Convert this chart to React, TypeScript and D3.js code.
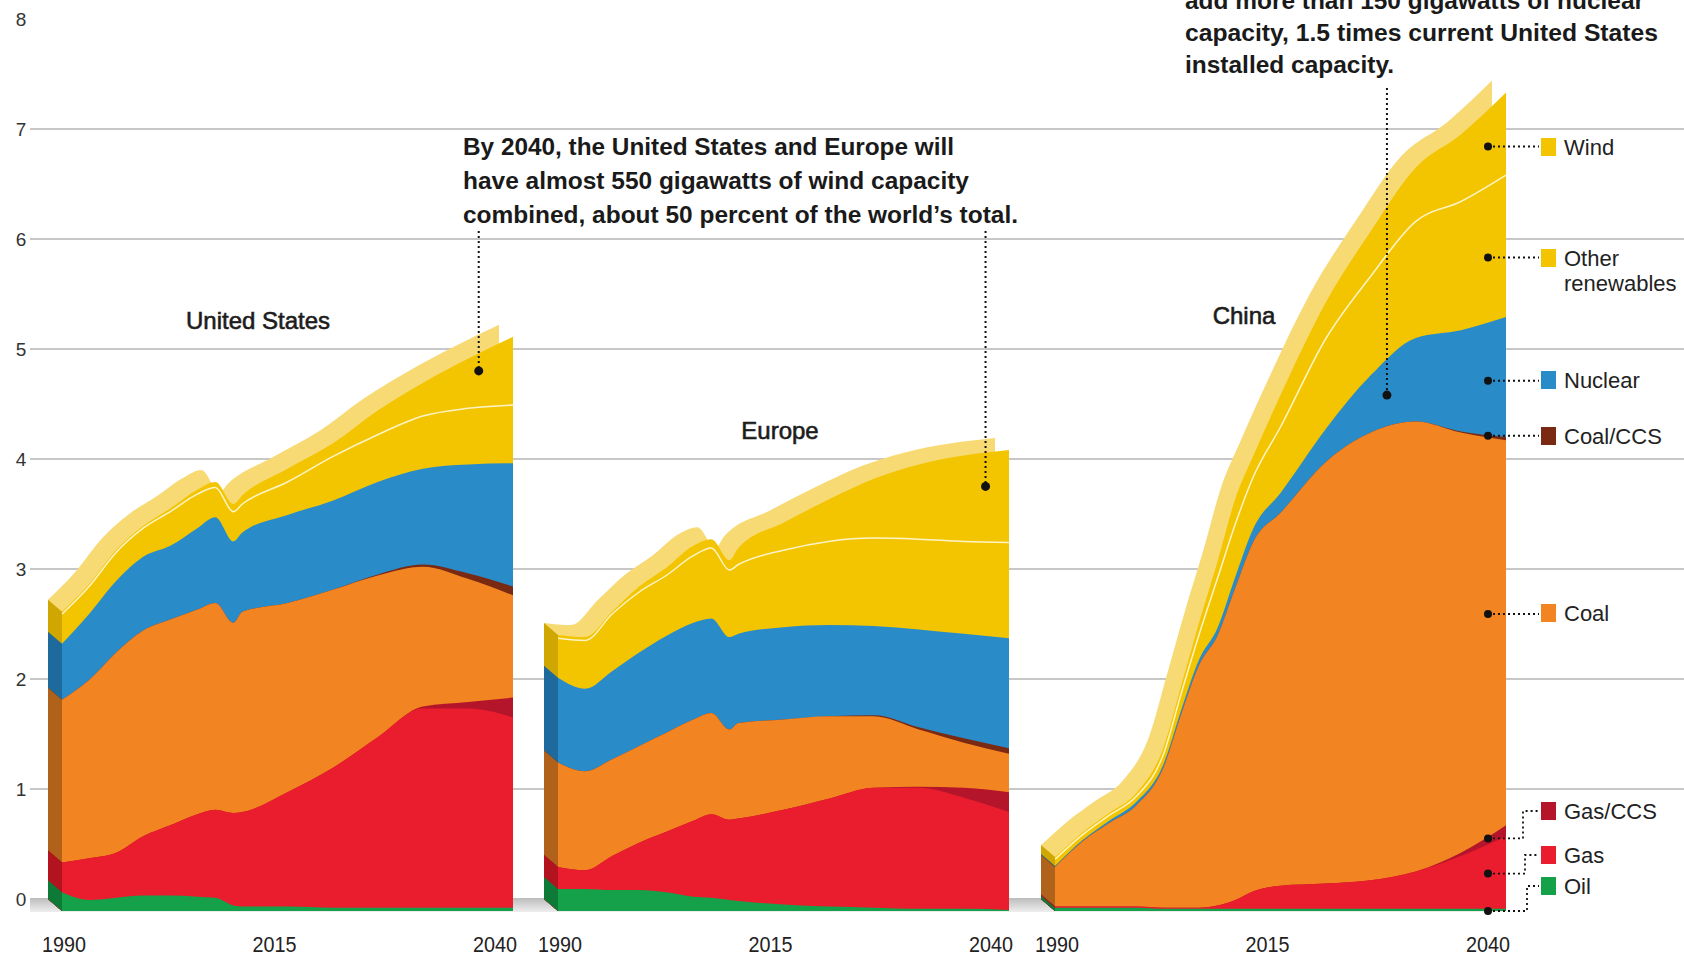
import React from 'react';
import * as d3 from 'd3';

// ---------- DATA (trillion kWh) ----------
const SERIES = ['oil', 'gas', 'gasCCS', 'coal', 'coalCCS', 'nuclear', 'otherRen', 'wind'];

const usYears = [1990, 1993, 1996, 1999, 2002, 2005, 2007, 2009, 2010, 2015, 2020, 2025, 2030, 2035, 2040];
const usOil = [0.17, 0.10, 0.12, 0.14, 0.14, 0.13, 0.12, 0.05, 0.04, 0.04, 0.03, 0.03, 0.03, 0.03, 0.03];
const usGas = [0.27, 0.38, 0.41, 0.54, 0.64, 0.75, 0.80, 0.84, 0.86, 1.04, 1.27, 1.55, 1.81, 1.81, 1.73];
const usGasCCS = [0, 0, 0, 0, 0, 0, 0, 0, 0, 0, 0, 0, 0.02, 0.06, 0.18];
const usCoal = [1.48, 1.62, 1.82, 1.87, 1.87, 1.86, 1.88, 1.73, 1.82, 1.72, 1.62, 1.47, 1.27, 1.12, 0.93];
const usCoalCCS = [0, 0, 0, 0, 0, 0, 0, 0, 0, 0, 0, 0.01, 0.02, 0.05, 0.08];
const usNuclear = [0.51, 0.60, 0.65, 0.67, 0.67, 0.74, 0.78, 0.74, 0.72, 0.80, 0.81, 0.84, 0.87, 0.99, 1.12];
const usOther = [0.27, 0.25, 0.26, 0.26, 0.31, 0.31, 0.27, 0.27, 0.26, 0.30, 0.40, 0.43, 0.48, 0.51, 0.53];
const usWind = [0.02, 0.02, 0.02, 0.02, 0.03, 0.04, 0.05, 0.07, 0.08, 0.12, 0.12, 0.22, 0.30, 0.45, 0.62];

const euYears = [1990, 1993, 1996, 1999, 2002, 2005, 2007, 2009, 2010, 2015, 2020, 2025, 2030, 2035, 2040];
const euOil = [0.20, 0.20, 0.19, 0.19, 0.17, 0.13, 0.12, 0.10, 0.09, 0.06, 0.04, 0.03, 0.02, 0.02, 0.01];
const euGas = [0.20, 0.17, 0.31, 0.43, 0.55, 0.69, 0.76, 0.73, 0.75, 0.86, 0.98, 1.09, 1.10, 1.01, 0.89];
const euGasCCS = [0, 0, 0, 0, 0, 0, 0, 0, 0, 0, 0, 0, 0.01, 0.09, 0.18];
const euCoal = [0.95, 0.90, 0.88, 0.88, 0.90, 0.92, 0.92, 0.82, 0.87, 0.82, 0.75, 0.65, 0.52, 0.41, 0.35];
const euCoalCCS = [0, 0, 0, 0, 0, 0, 0, 0, 0, 0, 0, 0.01, 0.02, 0.04, 0.05];
const euNuclear = [0.77, 0.75, 0.80, 0.85, 0.88, 0.88, 0.86, 0.84, 0.81, 0.84, 0.83, 0.81, 0.89, 0.95, 1.00];
const euOther = [0.36, 0.44, 0.52, 0.55, 0.55, 0.61, 0.64, 0.61, 0.63, 0.70, 0.76, 0.80, 0.82, 0.84, 0.87];
const euWind = [0.03, 0.03, 0.02, 0.05, 0.07, 0.09, 0.08, 0.09, 0.15, 0.25, 0.38, 0.54, 0.68, 0.78, 0.84];

const cnYears = [1990, 1993, 1996, 1999, 2002, 2004, 2006, 2008, 2010, 2012, 2015, 2020, 2025, 2030, 2035, 2040];
const cnOil = [0.03, 0.03, 0.03, 0.03, 0.02, 0.02, 0.02, 0.02, 0.02, 0.02, 0.02, 0.02, 0.02, 0.02, 0.02, 0.02];
const cnGas = [0.01, 0.01, 0.01, 0.01, 0.01, 0.01, 0.01, 0.03, 0.08, 0.16, 0.21, 0.23, 0.26, 0.34, 0.48, 0.66];
const cnGasCCS = [0, 0, 0, 0, 0, 0, 0, 0, 0, 0, 0, 0, 0, 0, 0.03, 0.10];
const cnCoal = [0.36, 0.59, 0.76, 0.92, 1.27, 1.76, 2.21, 2.45, 2.84, 3.18, 3.39, 3.83, 4.07, 4.09, 3.82, 3.50];
const cnCoalCCS = [0, 0, 0, 0, 0, 0, 0, 0, 0, 0, 0, 0, 0, 0, 0.01, 0.03];
const cnNuclear = [0.01, 0.01, 0.02, 0.03, 0.03, 0.04, 0.05, 0.07, 0.10, 0.12, 0.18, 0.30, 0.52, 0.76, 0.92, 1.09];
const cnOther = [0.06, 0.05, 0.05, 0.05, 0.09, 0.15, 0.23, 0.45, 0.48, 0.47, 0.60, 0.82, 0.90, 1.06, 1.17, 1.29];
const cnWind = [0.02, 0.02, 0.02, 0.03, 0.06, 0.07, 0.11, 0.15, 0.23, 0.19, 0.29, 0.33, 0.41, 0.49, 0.61, 0.75];

const regionNames = ['United States', 'Europe', 'China'];
const yTicks = [0, 1, 2, 3, 4, 5, 6, 7, 8];
const xTickYears = [1990, 2015, 2040];

const legendLabels = [['Wind'], ['Other', 'renewables'], ['Nuclear'], ['Coal/CCS'], ['Coal'], ['Gas/CCS'], ['Gas'], ['Oil']];
const legendKeys = ['wind', 'otherRen', 'nuclear', 'coalCCS', 'coal', 'gasCCS', 'gas', 'oil'];
const legendDotValues = [6.95, 5.94, 4.82, 4.32, 2.70, 0.66, 0.34, 0];

const note1 = ['By 2040, the United States and Europe will', 'have almost 550 gigawatts of wind capacity', 'combined, about 50 percent of the world\u2019s total.'];
const note2 = ['add more than 150 gigawatts of nuclear', 'capacity, 1.5 times current United States', 'installed capacity.'];
// annotation anchors: [panel index, year, value]
const noteAnchors = [[0, 2036.2, 4.91], [1, 2037.4, 3.86], [2, 2026.8, 4.69]];

// ---------- STYLE / LAYOUT ----------
const COLORS = {
  oil: '#15a04a', gas: '#ea1d2e', gasCCS: '#b5152b', coal: '#f28422', coalCCS: '#7a2a12',
  nuclear: '#2a8bc9', otherRen: '#f3c500', wind: '#f3c500',
};
const SIDE = {
  oil: '#0e7a38', gas: '#b3131f', gasCCS: '#8a0f20', coal: '#b0611a', coalCCS: '#5a1e0c',
  nuclear: '#1f6a9c', otherRen: '#cfa700', wind: '#cfa700',
};
const TOPFACE = '#f8da74';
const W = 1684, H = 957;
const PW = 451;
const LEFTS = [62, 558, 1055];
const DX = 14, DY = 12;
const FONT = '"Liberation Sans", Arial, Helvetica, sans-serif';

const yF = d3.scaleLinear().domain([0, 8]).range([911, 31]); // front face
const yG = d3.scaleLinear().domain([0, 8]).range([899, 19]); // grid (back plane)

const regions = [
  { years: usYears, oil: usOil, gas: usGas, gasCCS: usGasCCS, coal: usCoal, coalCCS: usCoalCCS, nuclear: usNuclear, otherRen: usOther, wind: usWind },
  { years: euYears, oil: euOil, gas: euGas, gasCCS: euGasCCS, coal: euCoal, coalCCS: euCoalCCS, nuclear: euNuclear, otherRen: euOther, wind: euWind },
  { years: cnYears, oil: cnOil, gas: cnGas, gasCCS: cnGasCCS, coal: cnCoal, coalCCS: cnCoalCCS, nuclear: cnNuclear, otherRen: cnOther, wind: cnWind },
];

function xScaleFor(i: number) {
  return d3.scaleLinear().domain([1990, 2040]).range([LEFTS[i], LEFTS[i] + PW]);
}

function Panel({ idx }: { idx: number }) {
  const r: any = regions[idx];
  const x = xScaleFor(idx);
  const rows = r.years.map((yr: number, i: number) => {
    const o: any = { year: yr };
    SERIES.forEach((k) => (o[k] = r[k][i]));
    return o;
  });
  const stack = d3.stack<any>().keys(SERIES)(rows);
  const area0 = d3.area<any>()
    .x((d) => x(d.data.year))
    .y0(yF(0))
    .y1((d) => yF(d[1]))
    .curve(d3.curveMonotoneX);
  const lineTop = d3.line<any>()
    .x((d) => x(d.data.year))
    .y((d) => yF(d[1]))
    .curve(d3.curveMonotoneX);
  const top = stack[stack.length - 1];
  const L = x(1990);
  const rev = [...stack].reverse();
  const otherLayer = stack[SERIES.indexOf('otherRen')];
  return (
    <g>
      {/* top face */}
      <path d={area0(top) || ''} transform={`translate(${-DX},${-DY})`} fill={TOPFACE} />
      {/* left face */}
      {rev.map((s) => {
        const v = s[0][1];
        const pts = [[L, yF(0)], [L, yF(v)], [L - DX, yF(v) - DY], [L - DX, yF(0) - DY]];
        return <polygon key={'side' + s.key} points={pts.map((p) => p.join(',')).join(' ')} fill={(SIDE as any)[s.key]} />;
      })}
      {/* front face */}
      {rev.map((s) => (
        <path key={'f' + s.key} d={area0(s) || ''} fill={(COLORS as any)[s.key]} />
      ))}
      <path d={lineTop(otherLayer) || ''} fill="none" stroke="#fff4c8" strokeWidth={1.5} />
      {xTickYears.map((yr, k) => {
        const tx = k === 0 ? x(yr) + 2 : k === 1 ? x(yr) - 13 : x(yr) - 18;
        return (
          <text key={'xt' + yr} x={tx} y={952} textAnchor="middle" fontSize={22} fontFamily={FONT} fill="#222" textLength={44} lengthAdjust="spacingAndGlyphs">
            {yr}
          </text>
        );
      })}
    </g>
  );
}

export default function App() {
  const titlePos = [[258, 329], [780, 439], [1244, 324]];
  const xC = xScaleFor(2);
  const dotX = xC(2040) - 18;
  const swX = 1541;
  const labelX = 1564;
  const legendLabelY = [147, 258, 380, 436, 613, 811, 855, 886];
  const elbowX = [1523, 1525, 1527];
  const note1W = [491, 506, 555];
  const note2W = [459, 473, 209];
  return (
    <div style={{ position: 'absolute', left: 0, top: 0 }}>
      <svg width={W} height={H} style={{ display: 'block', background: '#fff' }}>
        <defs>
          <linearGradient id="floor" x1="0" y1="0" x2="0" y2="1">
            <stop offset="0" stopColor="#bcbcbc" />
            <stop offset="1" stopColor="#eeeeee" />
          </linearGradient>
        </defs>
        {/* grid */}
        {yTicks.filter((v) => v > 0 && v < 8).map((v) => (
          <line key={'g' + v} x1={30} x2={W} y1={yG(v)} y2={yG(v)} stroke="#b4b4b4" strokeWidth={1.4} />
        ))}
        <rect x={30} y={yG(0) - 1} width={1475} height={14} fill="url(#floor)" />
        {yTicks.map((v) => (
          <text key={'yl' + v} x={21} y={yG(v) + 7} textAnchor="middle" fontSize={19} fontFamily={FONT} fill="#333">
            {v}
          </text>
        ))}
        {regions.map((_, i) => <Panel key={i} idx={i} />)}
        {/* titles */}
        {regionNames.map((n, i) => (
          <text key={n} x={titlePos[i][0]} y={titlePos[i][1]} textAnchor="middle" fontSize={24} fontFamily={FONT} fill="#1c1c1c" stroke="#1c1c1c" strokeWidth={0.6}>
            {n}
          </text>
        ))}
        {/* annotation 1 */}
        {note1.map((t, i) => (
          <text key={'n1' + i} x={463} y={155 + i * 34} fontSize={23} fontWeight="bold" fontFamily={FONT} fill="#1a1a1a" textLength={note1W[i]} lengthAdjust="spacingAndGlyphs">
            {t}
          </text>
        ))}
        {note2.map((t, i) => (
          <text key={'n2' + i} x={1185} y={9 + i * 32} fontSize={23} fontWeight="bold" fontFamily={FONT} fill="#1a1a1a" textLength={note2W[i]} lengthAdjust="spacingAndGlyphs">
            {t}
          </text>
        ))}
        {noteAnchors.map(([p, yr, v], i) => {
          const ax = xScaleFor(p)(yr);
          const ay = yF(v);
          const startY = i < 2 ? 231 : 88;
          return (
            <g key={'na' + i}>
              <line x1={ax} x2={ax} y1={startY} y2={ay} stroke="#111" strokeWidth={2} strokeDasharray="2,3" />
              <circle cx={ax} cy={ay} r={4.5} fill="#111" />
            </g>
          );
        })}
        {/* legend */}
        {legendKeys.map((k, i) => {
          const dy = yF(legendDotValues[i]);
          const ly = legendLabelY[i];
          const lines = legendLabels[i];
          let leader;
          if (i < 5) {
            leader = <line x1={dotX} x2={swX - 2} y1={dy} y2={dy} stroke="#111" strokeWidth={2} strokeDasharray="2,3" />;
          } else {
            const ex = elbowX[i - 5];
            leader = (
              <path d={`M${dotX},${dy}H${ex}V${ly}H${swX - 2}`} fill="none" stroke="#111" strokeWidth={1.8} strokeDasharray="2,3" />
            );
          }
          return (
            <g key={'lg' + k}>
              {leader}
              <circle cx={dotX} cy={dy} r={4} fill="#111" />
              <rect x={swX} y={ly - 9} width={15} height={18} fill={(COLORS as any)[k]} />
              {lines.map((t, j) => (
                <text key={j} x={labelX} y={ly + 8 + j * 25} fontSize={22} fontFamily={FONT} fill="#222">
                  {t}
                </text>
              ))}
            </g>
          );
        })}
      </svg>
    </div>
  );
}
